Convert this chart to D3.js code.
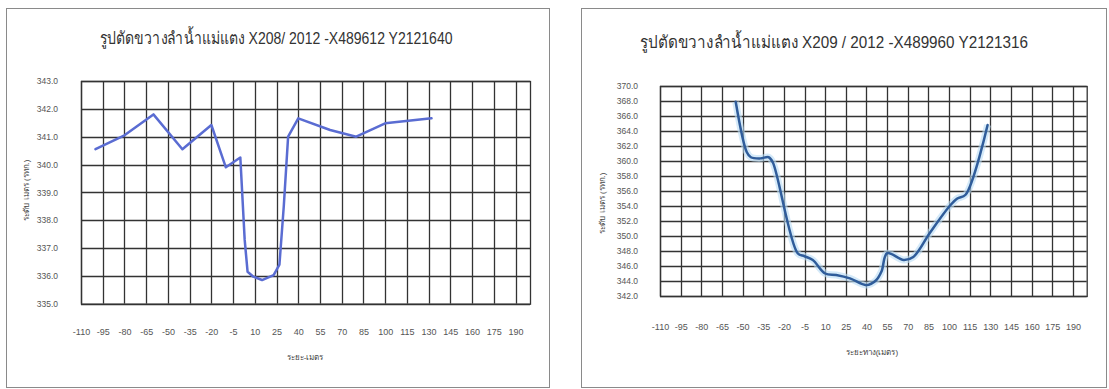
<!DOCTYPE html>
<html><head><meta charset="utf-8">
<script src="https://cdn.jsdelivr.net/npm/d3@7/dist/d3.min.js"></script>
<style>
body{margin:0;background:#fff;}
svg{display:block;}
text{font-family:"Liberation Sans","Noto Sans",sans-serif;}
</style></head>
<body>
<svg id="c" width="1109" height="389"></svg>
<script>
// ---- data ----
const title1 = "รูปตัดขวางลำน้ำแม่แตง X208/ 2012 -X489612 Y2121640";
const title2 = "รูปตัดขวางลำน้ำแม่แตง X209 / 2012 -X489960 Y2121316";
const yTitle1 = "ระดับ เมตร (รทก.)";
const yTitle2 = "ระดับ เมตร (รทก.)";
const xTitle1 = "ระยะ-เมตร";
const xTitle2 = "ระยะทาง(เมตร)";
const xTicks = [-110,-95,-80,-65,-50,-35,-20,-5,10,25,40,55,70,85,100,115,130,145,160,175,190];
const yTicks1 = [335,336,337,338,339,340,341,342,343];
const yTicks2 = [342,344,346,348,350,352,354,356,358,360,362,364,366,368,370];
// section X208
const dist1 = [-100,-80,-60,-40,-20,-10,0,3,5,9,15,23,27,30,33,40,62,80,100,132];
const elev1 = [340.55,341.05,341.8,340.55,341.42,339.9,340.25,337.3,336.15,335.97,335.85,336.03,336.4,338.5,341.0,341.66,341.24,341.0,341.48,341.66];
// section X209
const dist2 = [-55,-47,-44,-37,-31,-28,-10,-5,1,10,18,28,40,47,51,55,67,74,86,100,106,112,128];
const elev2 = [367.9,361.2,360.5,360.35,360.5,359.8,347.7,347.3,346.8,345.0,344.8,344.35,343.45,344.1,345.3,347.7,346.8,347.2,350.4,353.9,355.0,355.5,364.8];

const svg = d3.select("#c");
const hy = f => d => f(d).replace("\u2212","-");

function panel(cfg){
  const g = svg.append("g");
  g.append("rect").attr("x",cfg.frame[0]+0.5).attr("y",cfg.frame[1]+0.5)
    .attr("width",cfg.frame[2]).attr("height",cfg.frame[3])
    .attr("fill","#fff").attr("stroke","#8a8a8a").attr("stroke-width",1);
  const x = d3.scaleLinear().domain([-110,200]).range(cfg.xr);
  const y = d3.scaleLinear().domain(cfg.yd).range(cfg.yr);
  // grid
  g.append("g").selectAll("line").data(cfg.yTicks).join("line")
    .attr("x1",cfg.xr[0]).attr("x2",cfg.xr[1])
    .attr("y1",d=>Math.round(y(d))+0.5).attr("y2",d=>Math.round(y(d))+0.5)
    .attr("stroke","#333").attr("stroke-width",1.3);
  g.append("g").selectAll("line").data(xTicks).join("line")
    .attr("x1",d=>Math.round(x(d))+0.5).attr("x2",d=>Math.round(x(d))+0.5)
    .attr("y1",cfg.yr[1]).attr("y2",cfg.yr[0])
    .attr("stroke","#333").attr("stroke-width",1.3);
  g.append("rect").attr("x",cfg.xr[0]+0.5).attr("y",cfg.yr[1]+0.5)
    .attr("width",cfg.xr[1]-cfg.xr[0]).attr("height",cfg.yr[0]-cfg.yr[1])
    .attr("fill","none").attr("stroke","#333").attr("stroke-width",1.3);
  // axes labels
  const xa = d3.axisBottom(x).tickValues(xTicks).tickSize(0).tickPadding(0).tickFormat(hy(d3.format("d")));
  const xg = g.append("g").attr("transform",`translate(0,${cfg.xLabY})`).call(xa);
  xg.select(".domain").remove();
  xg.selectAll("text").attr("fill","#555").attr("font-size",9).attr("font-family","Liberation Sans");
  const ya = d3.axisLeft(y).tickValues(cfg.yTicks).tickSize(0).tickPadding(0).tickFormat(hy(d3.format(".1f")));
  const yg = g.append("g").attr("transform",`translate(${cfg.yLabX},0)`).call(ya);
  yg.select(".domain").remove();
  yg.selectAll("text").attr("fill","#555").attr("font-size",8.5).attr("font-family","Liberation Sans");
  // line
  const pts = cfg.xs.map((d,i)=>[d,cfg.ys[i]]);
  const line = d3.line().x(d=>x(d[0])).y(d=>y(d[1])).curve(cfg.curve);
  if(cfg.glow){
    g.append("path").datum(pts).attr("d",line).attr("fill","none")
      .attr("stroke",cfg.glow).attr("stroke-width",7).attr("stroke-linejoin","round").attr("stroke-opacity",0.6);
  }
  g.append("path").datum(pts).attr("d",line).attr("fill","none")
    .attr("stroke",cfg.color).attr("stroke-width",2.5).attr("stroke-linejoin","round").attr("stroke-linecap","round");
  // titles
  g.append("text").attr("x",cfg.title[1]).attr("y",cfg.title[2]).attr("text-anchor","middle")
    .attr("font-size",17).attr("fill","#333").attr("textLength",cfg.title[3]).attr("lengthAdjust","spacingAndGlyphs")
    .text(cfg.title[0]);
  g.append("text").attr("transform",`translate(${cfg.yt[1]},${cfg.yt[2]}) rotate(-90)`)
    .attr("text-anchor","middle").attr("font-size",8).attr("fill","#444").text(cfg.yt[0]);
  g.append("text").attr("x",cfg.xt[1]).attr("y",cfg.xt[2]).attr("text-anchor","middle")
    .attr("font-size",8).attr("fill","#444").text(cfg.xt[0]);
}

panel({frame:[6,8,543,379], xr:[81,530], yd:[335,343], yr:[303.7,81], yTicks:yTicks1,
  xLabY:329, yLabX:58, xs:dist1, ys:elev1, curve:d3.curveLinear, color:"#5a6cd2", glow:null,
  title:[title1,276,44,353], yt:[yTitle1,29,190], xt:[xTitle1,305,360]});
panel({frame:[581,8,525,379], xr:[660,1086.7], yd:[342,370], yr:[296,86], yTicks:yTicks2,
  xLabY:324, yLabX:638, xs:dist2, ys:elev2, curve:d3.curveCatmullRom, color:"#2f5c9a", glow:"#b9dcf5",
  title:[title2,834,48,388], yt:[yTitle2,605,203], xt:[xTitle2,872,355]});
</script>
</body></html>
